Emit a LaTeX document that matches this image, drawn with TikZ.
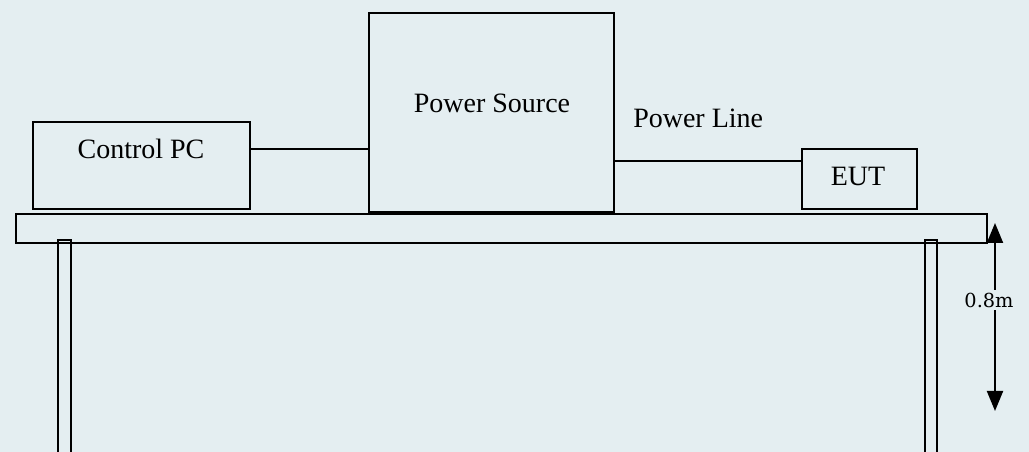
\documentclass[tikz,border=0pt]{standalone}
\usepackage{fontspec}
\setmainfont{Liberation Serif}
\newfontfamily\labelfont{DejaVu Serif}
\usetikzlibrary{arrows.meta, positioning}

\definecolor{bgblue}{HTML}{E4EEF1}

\begin{document}
\begin{tikzpicture}[x=0.75pt, y=-0.75pt,
    box/.style={draw, line width=2pt, inner sep=0pt},
    wire/.style={line width=1.5pt},
    txt/.style={font=\fontsize{21}{25}\selectfont, inner sep=0pt, anchor=base},
    >={Triangle[length=15pt, width=12pt]}]
    % Hintergrund
    \fill[bgblue] (0,0) rectangle (1029,452);
    \useasboundingbox (0,0) rectangle (1029,452);

    % Geraete
    \node[box, minimum width=162.75pt, minimum height=65.25pt] (cpc) at (141.5,165.5) {};
    \node[box, minimum width=183.75pt, minimum height=149.25pt] (ps) at (491.5,112.5) {};
    \node[box, minimum width=86.25pt, minimum height=45pt] (eut) at (859.5,179) {};
    \node[txt] (cpctxt) at (141,159) {Control PC};
    \node[txt] (pstxt) at (492,113) {Power Source};
    \node[txt, anchor=base west] (pltxt) at (633,128) {Power Line};
    \node[txt] (euttxt) at (858,186) {EUT};

    % Leitungen
    \draw[wire] (cpc.east |- 0,149) -- (ps.west |- 0,149);
    \draw[wire] (ps.east |- 0,161) -- (eut.west |- 0,161);

    % Tisch
    \node[box, minimum width=728.25pt, minimum height=21.75pt] (top) at (501.5,228.5) {};
    \draw[wire] (58,452) -- (58,240) -- (71,240) -- (71,452);
    \draw[wire] (925,452) -- (925,240) -- (937,240) -- (937,452);

    % Hoehe
    \coordinate (hup) at (995,223);
    \coordinate (hdown) at (995,411);
    \draw[wire, <->] (hup) -- (hdown);
    \node[fill=bgblue, inner sep=2pt, font=\labelfont\fontsize{14.5}{17}\selectfont] (height) at (989,300) {0.8m};
\end{tikzpicture}
\end{document}
